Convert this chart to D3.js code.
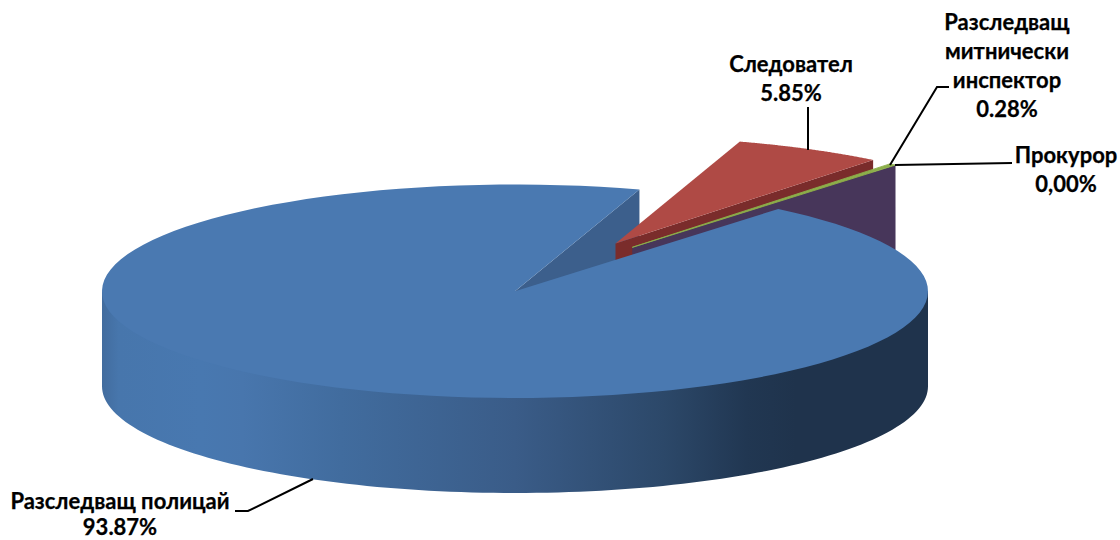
<!DOCTYPE html>
<html><head><meta charset="utf-8">
<script src="https://cdn.jsdelivr.net/npm/d3@7/dist/d3.min.js"></script>
<style>html,body{margin:0;padding:0;background:#fff}svg{display:block}
text{font-family:Lato,"Open Sans",sans-serif;font-weight:700;font-size:22px;fill:#000;text-anchor:middle;stroke:#000;stroke-width:0.25px}</style>
</head><body><svg id="c" width="1120" height="540"></svg>
<script>
const categories = ["Разследващ полицай","Следовател","Разследващ митнически инспектор","Прокурор"];
const values = [93.87,5.85,0.28,0];
const valueLabels = ["93.87%","5.85%","0.28%","0,00%"];
const labelLines = [["Разследващ полицай"],["Следовател"],["Разследващ","митнически","инспектор"],["Прокурор"]];
const topColors = ["#4A79B1","#AF4A45","#8CAF4B","#5F4A80"];
const wallColors = ["#3C5F8C","#7A2C2B","#6F8C3B","#47365A"];
const explosion = [0,0.51,0.5,0.5];
const explodeDeg = [0,28.5,34.6,34.6];
const rad = d=>d*Math.PI/180;
const svg = d3.select("#c");
const x = d3.scaleLinear().domain([-1,1]).range([102,928]);
const y = d3.scaleLinear().domain([-1,1]).range([398,184.5]);
const depth = 95;
const start = rad(39.6);
const arcs = d3.pie().sort(null).startAngle(start).endAngle(start+2*Math.PI)(values);
const line = d3.line();
const P = (i,t,r=1,dz=0)=>{const e=explosion[i],a=rad(explodeDeg[i]);
  return [x(r*Math.sin(t)+e*Math.sin(a)), y(r*Math.cos(t)+e*Math.cos(a))+dz];};
const arcPts = (i,a,b,dz=0)=>d3.range(0,121).map(k=>P(i,a+(b-a)*k/120,1,dz));
const defs = svg.append("defs");
const g = defs.append("linearGradient").attr("id","rim").attr("gradientUnits","userSpaceOnUse")
  .attr("x1",x(-1)).attr("x2",x(1)).attr("y1",0).attr("y2",0);
[[0,"#426C9E"],[0.02,"#4776AC"],[0.12,"#4878B0"],[0.17,"#4876AD"],[0.29,"#416C9E"],[0.5,"#3A5C88"],[0.68,"#2C4869"],[0.78,"#213752"],[0.84,"#1F334C"],[1,"#1F334C"]]
  .forEach(s=>g.append("stop").attr("offset",s[0]).attr("stop-color",s[1]));
const poly=(pts,fill)=>svg.append("path").attr("d",line(pts)+"Z").attr("fill",fill);
// blue cut wall visible in the gap
const b=arcs[0];
poly([P(0,0,0),P(0,b.endAngle),P(0,b.endAngle,1,depth),P(0,0,0,depth)],wallColors[0]);
// red slice
const r=arcs[1];
poly([P(1,0,0),P(1,r.endAngle),P(1,r.endAngle,1,depth),P(1,0,0,depth)],wallColors[1]);
poly([P(1,0,0),...arcPts(1,r.startAngle,r.endAngle)],topColors[1]);
// purple wall of the zero slice, then green top
const gr=arcs[2];
poly([P(3,0,0),P(3,gr.endAngle),P(3,gr.endAngle,1,depth),P(3,0,0,depth)],wallColors[3]);
poly([P(2,0,0),...arcPts(2,gr.startAngle,gr.endAngle)],topColors[2]).attr("stroke",topColors[2]).attr("stroke-width",0.9);
// blue rim (upper edge tucked under the top face) + top
const front=d3.range(0,121).map(k=>P(0,rad(90)+rad(180)*k/120,0.985));
const frontLow=arcPts(0,rad(270),rad(90),depth);
poly([P(0,rad(90)),...front,P(0,rad(270)),...frontLow],"url(#rim)");
poly([P(0,0,0),...arcPts(0,b.startAngle,b.endAngle)],topColors[0]);
// leader lines
const leaders=[[[313,479],[248,511],[235,511]],[[808,150],[808,107]],[[890,165],[937,87],[949,87]],[[895,165],[1012,163]]];
leaders.forEach(l=>svg.append("path").attr("d",line(l)).attr("fill","none").attr("stroke","#000").attr("stroke-width",2));
// labels
const labelPos=[[120,509],[791,72],[1007,30],[1066,163]];
const lineStep=[26,29,29,29];
categories.forEach((c,i)=>{
  const lines=[...labelLines[i],valueLabels[i]];
  const t=svg.append("text").attr("transform",`translate(${labelPos[i][0]},${labelPos[i][1]})`);
  t.selectAll("tspan").data(lines).join("tspan").attr("x",0).attr("y",(d,k)=>k*lineStep[i]).text(d=>d);
});
</script></body></html>
